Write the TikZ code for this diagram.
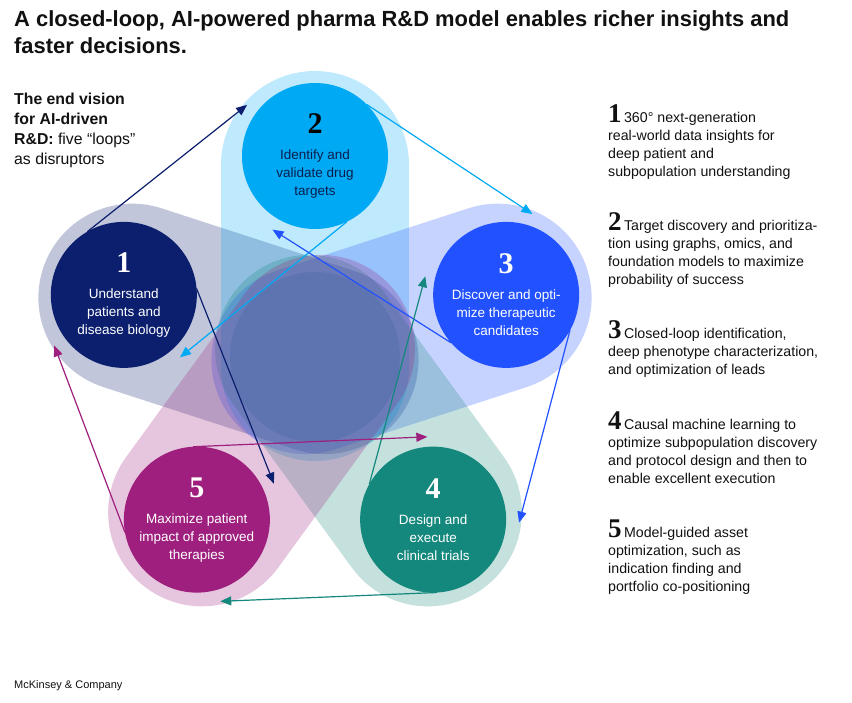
\documentclass[tikz,border=0pt]{standalone}
\usepackage{fontspec}
\setmainfont{Liberation Sans}
\newfontfamily\numfamily{Liberation Serif}
\usepackage{xcolor}
\usepackage{tikz}
\usetikzlibrary{calc,arrows.meta}
\definecolor{ink}{HTML}{111111}
\definecolor{deepink}{HTML}{0B1F4E}
\definecolor{navy}{HTML}{0B1F6E}
\definecolor{sky}{HTML}{00A9F4}
\definecolor{royal}{HTML}{2251FF}
\definecolor{teal}{HTML}{14887C}
\definecolor{plum}{HTML}{9E1F7E}
\definecolor{core}{HTML}{5B73B0}
\newcommand{\loopnum}[1]{{\numfamily\bfseries\fontsize{30}{30}\selectfont #1}}
\newcommand{\listnum}[1]{{\numfamily\bfseries\fontsize{27}{27}\selectfont #1}}
\tikzset{
  petal/.style={line width=188pt, line cap=round, draw opacity=0.25},
  stage/.style={circle, minimum size=146pt, inner sep=0pt, outer sep=0pt, align=center, text=white, font=\fontsize{13.5}{18}\selectfont},
  link/.style={line width=1.2pt, -{Triangle[length=11pt,width=9pt]}},
  item/.style={anchor=base west, align=left, inner sep=0pt, text=ink, font=\fontsize{14.2}{18}\selectfont},
}

\begin{document}
\begin{tikzpicture}[x=1pt,y=1pt]
\path[use as bounding box, fill=white] (0,0) rectangle (852,-702);

% headline and side note (base = last line)
\node[item, font=\fontsize{21.9}{27}\selectfont\bfseries] (title) at (14,-53) {A closed-loop, AI-powered pharma R\&D model enables richer insights and\\faster decisions.};
\node[item, font=\fontsize{15.8}{19.7}\selectfont] (vision) at (14,-164) {\textbf{The end vision}\\\textbf{for AI-driven}\\\textbf{R\&D:} five “loops”\\as disruptors};

% centres of the five loops
\coordinate (ctr) at (315,-357);
\coordinate (p1) at ($(ctr)+(162:201)$);
\coordinate (p2) at ($(ctr)+(90:201)$);
\coordinate (p3) at ($(ctr)+(18:201)$);
\coordinate (p4) at ($(ctr)+(306:201)$);
\coordinate (p5) at ($(ctr)+(234:201)$);

% petals
\draw[petal, navy] ($(ctr)!-10pt!(p1)$) -- ($(ctr)!192pt!(p1)$);
\draw[petal, sky] ($(ctr)!-10pt!(p2)$) -- ($(ctr)!192pt!(p2)$);
\draw[petal, royal] ($(ctr)!-10pt!(p3)$) -- ($(ctr)!192pt!(p3)$);
\draw[petal, teal] ($(ctr)!-10pt!(p4)$) -- ($(ctr)!192pt!(p4)$);
\draw[petal, plum] ($(ctr)!-10pt!(p5)$) -- ($(ctr)!192pt!(p5)$);
\fill[core, opacity=0.8] (ctr) circle (85);

% loops
\node[stage, fill=navy] (c1) at (p1) {\loopnum{1}\\[8pt]Understand\\patients and\\disease biology};
\node[stage, fill=sky, text=deepink] (c2) at (p2) {{\color{black}\loopnum{2}}\\[8pt]Identify and\\validate drug\\targets};
\node[stage, fill=royal] (c3) at (p3) {\loopnum{3}\\[8pt]Discover and opti-\\mize therapeutic\\candidates};
\node[stage, fill=teal] (c4) at (p4) {\loopnum{4}\\[8pt]Design and\\execute\\clinical trials};
\node[stage, fill=plum] (c5) at (p5) {\loopnum{5}\\[8pt]Maximize patient\\impact of approved\\therapies};

% feedback arrows
\draw[link, navy] (c1.120) -- ($(c2)+(143:85)$);
\draw[link, sky] (c2.45) -- ($(c3)+(72:85)$);
\draw[link, sky] (c2.-64) -- ($(c1)+(-48:84)$);
\draw[link, royal] (c3.221) -- ($(c2)+(240:85)$);
\draw[link, royal] (c3.-29) -- ($(c4)+(-2:86)$);
\draw[link, teal] (c4.151) -- ($(c3)+(167:83)$);
\draw[link, teal] (c4.-87) -- ($(c5)+(-74:85)$);
\draw[link, navy] (c1.5) -- ($(c5)+(25:85)$);
\draw[link, plum] (c5.93) -- ($(c4)+(94:83)$);
\draw[link, plum] (c5.190) -- ($(c1)+(216:86)$);

% legend (base = last line)
\node[item] (d1) at (608,-176) {\listnum{1}\,360° next-generation\\real-world data insights for\\deep patient and\\subpopulation understanding};
\node[item] (d2) at (608,-284) {\listnum{2}\,Target discovery and prioritiza-\\tion using graphs, omics, and\\foundation models to maximize\\probability of success};
\node[item] (d3) at (608,-374) {\listnum{3}\,Closed-loop identification,\\deep phenotype characterization,\\and optimization of leads};
\node[item] (d4) at (608,-483) {\listnum{4}\,Causal machine learning to\\optimize subpopulation discovery\\and protocol design and then to\\enable excellent execution};
\node[item] (d5) at (608,-591) {\listnum{5}\,Model-guided asset\\optimization, such as\\indication finding and\\portfolio co-positioning};

\node[item, font=\fontsize{11}{13}\selectfont] (brand) at (14,-688) {McKinsey \& Company};
\end{tikzpicture}
\end{document}
